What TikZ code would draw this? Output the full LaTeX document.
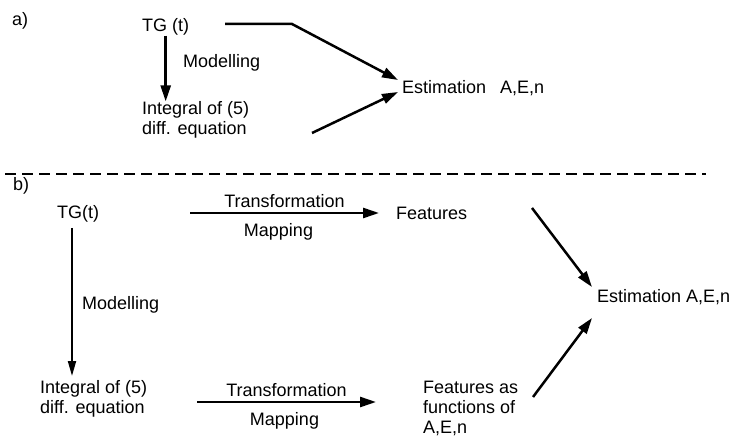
\documentclass[tikz,border=0pt]{standalone}
\usepackage{fontspec}
\setmainfont{Liberation Sans}
\usetikzlibrary{arrows.meta}
\begin{document}
\begin{tikzpicture}[x=1pt,y=-1pt,
  lbl/.style={inner sep=0pt,font=\fontsize{18}{20}\selectfont},
  lblw/.style={lbl,anchor=west},
  multi/.style={lblw,align=left},
  arr/.style={line width=2.5pt,-{Triangle[length=16pt,width=10pt]}},
  arrthin/.style={line width=2pt,-{Triangle[length=15pt,width=8pt]}}]
\useasboundingbox (0,0) rectangle (738,438);
% ---------- a)
\node[lblw] (la) at (12,21) {a)};
\node[lblw] (tga) at (142,27) {TG (t)};
\node[lblw] (moda) at (183,63) {Modelling};
\node[multi] (inta) at (142,120) {Integral of (5)\\diff. equation};
\node[lblw] (esta) at (402,88) {Estimation\hspace{14pt}A,E,n};
\coordinate (a1) at (225,24);
\coordinate (a2) at (292,24);
\coordinate (a3) at (312,133);
\draw[arr] (tga.south) ++(0,-0) coordinate (tgas) -- (tgas |- inta.north);
\draw[arr] (a1) -- (a2) -- ([shift={(-4,-8)}]esta.west);
\draw[arr] (a3) -- ([shift={(-4,4)}]esta.west);
% ---------- separator
\coordinate (d1) at (5,174);
\coordinate (d2) at (706,174);
\draw[line width=1.3pt,dash pattern=on 11pt off 6pt] (d1) -- (d2);
% ---------- b)
\node[lblw] (lb) at (13,186) {b)};
\node[lblw] (tgb) at (57,214) {TG(t)};
\node[lblw] (modb) at (82,305) {Modelling};
\node[multi] (intb) at (40,399) {Integral of (5)\\diff. equation};
\node[lblw] (featb) at (396,213) {Features};
\node[lblw] (estb) at (597,297) {Estimation A,E,n};
\node[multi] (fab) at (423,408) {Features as\\functions of\\A,E,n};
\coordinate (t1) at (190,213);
\coordinate (t2) at (379,213);
\coordinate (b1) at (197,402);
\coordinate (b2) at (376,402);
\draw[arr] (t1) -- (t2) node[lbl,midway,above=4pt] (tr1) {Transformation}
                          node[lbl,midway,below=9pt,xshift=-6pt] (mp1) {Mapping};
\draw[arr] (b1) -- (b2) node[lbl,midway,above=4pt] (tr2) {Transformation}
                          node[lbl,midway,below=9pt,xshift=-2pt] (mp2) {Mapping};
\coordinate (tgbs) at (72,228);
\coordinate (intbn) at (72,376);
\draw[arrthin] (tgbs) -- (intbn);
\draw[arr] ([shift={(136,-5)}]featb.west) -- ([shift={(-5,-10)}]estb.west);
\draw[arr] ([shift={(110,-11)}]fab.west) -- ([shift={(-5,21)}]estb.west);
\end{tikzpicture}
\end{document}
